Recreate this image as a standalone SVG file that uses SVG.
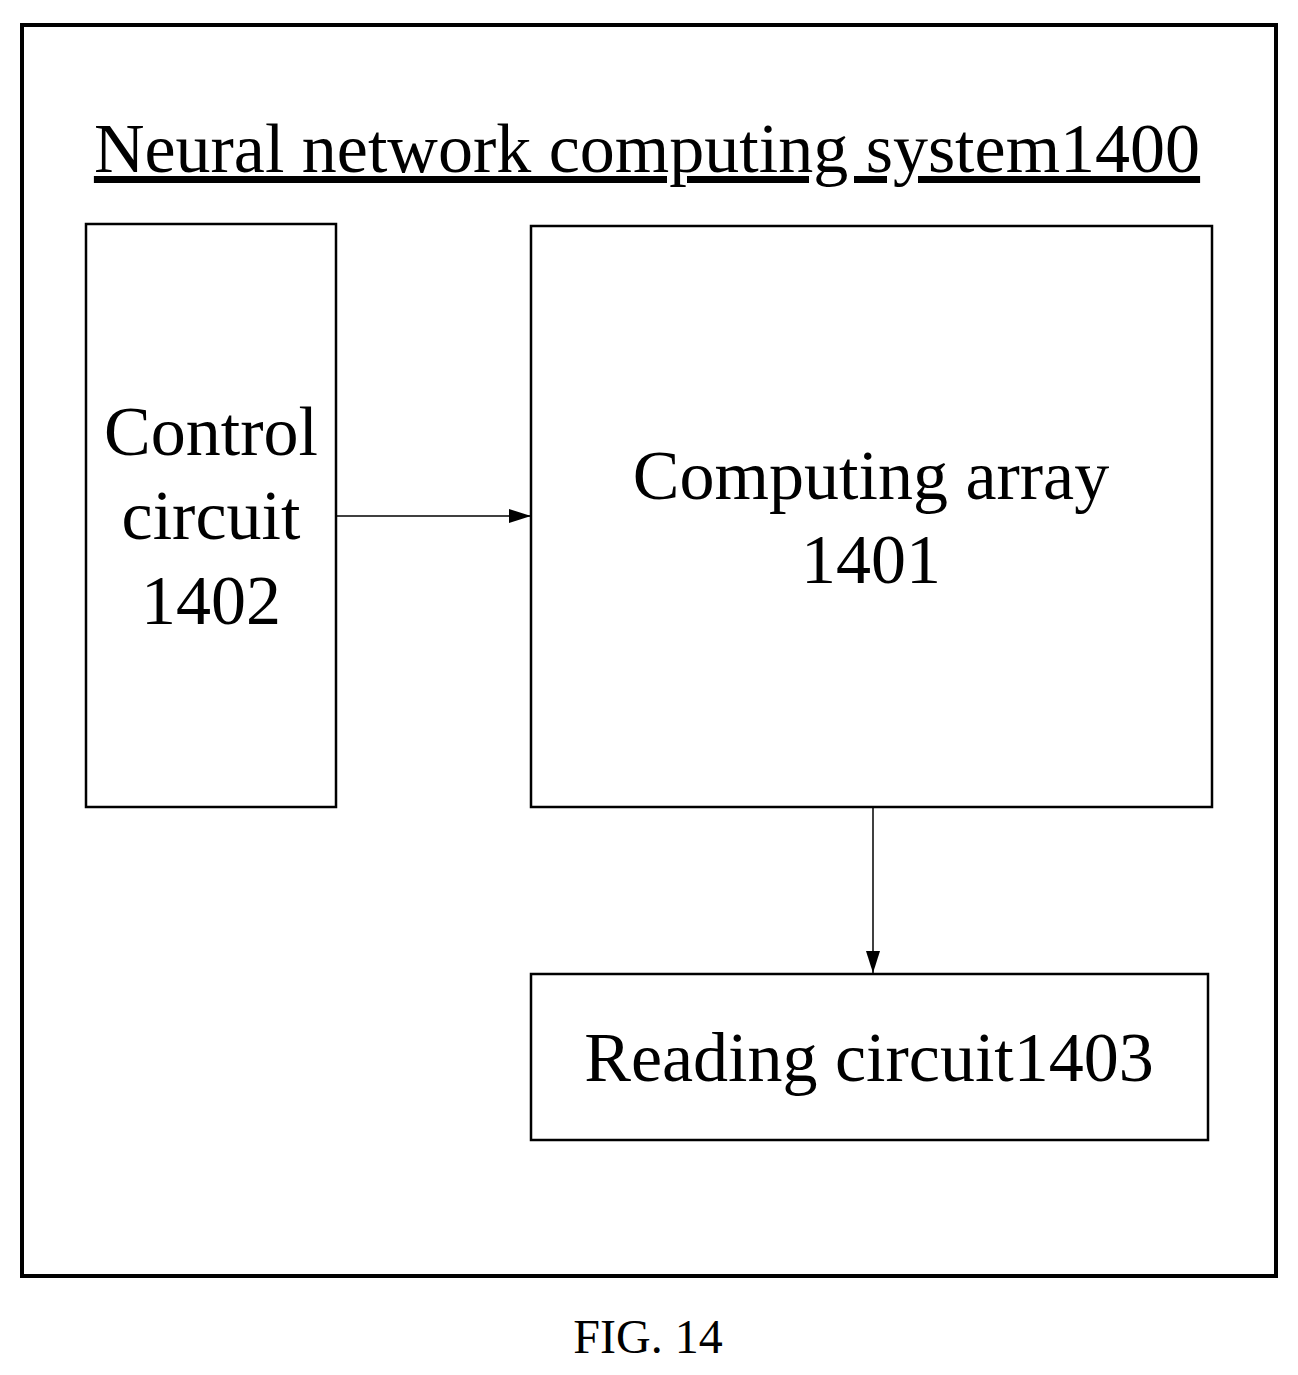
<svg xmlns="http://www.w3.org/2000/svg" width="1298" height="1375" viewBox="0 0 1298 1375">
<style>
text{font-family:"Liberation Serif","Times New Roman",serif;fill:#000;text-anchor:middle}
.b{fill:#fff;stroke:#000;stroke-width:2.5}
.t{font-size:70px}
</style>
<defs><marker id="a" markerWidth="22" markerHeight="14" refX="22" refY="7" orient="auto" markerUnits="userSpaceOnUse"><path d="M0,0L22,7L0,14z" fill="#000"/></marker></defs>
<rect width="1298" height="1375" fill="#fff"/>
<g id="system"><rect x="22" y="25" width="1254" height="1251" fill="none" stroke="#000" stroke-width="4"/>
<text x="647" y="172" font-size="70" text-decoration="underline">Neural network computing system1400</text></g>
<g id="control"><rect class="b" x="86" y="224" width="250" height="583"/>
<text class="t" x="211" y="455">Control</text><text class="t" x="211" y="539">circuit</text><text class="t" x="211" y="624">1402</text></g>
<g id="array"><rect class="b" x="531" y="226" width="681" height="581"/>
<text class="t" x="871" y="499">Computing array</text><text class="t" x="871" y="583">1401</text></g>
<g id="reading"><rect class="b" x="531" y="974" width="677" height="166"/>
<text class="t" x="869" y="1081">Reading circuit1403</text></g>
<g id="connectors" stroke="#000" stroke-width="1.5" fill="none">
<line x1="336" y1="516" x2="531" y2="516" marker-end="url(#a)"/>
<line x1="873" y1="807" x2="873" y2="973" marker-end="url(#a)"/></g>
<text x="648" y="1353" font-size="48">FIG. 14</text>
</svg>
